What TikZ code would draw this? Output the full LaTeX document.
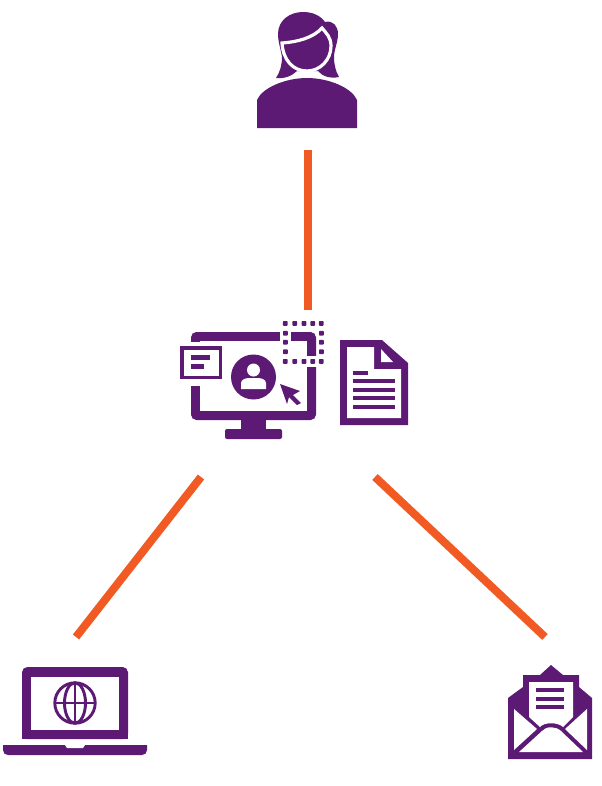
\documentclass[tikz,border=0pt]{standalone}
\definecolor{iconpurple}{HTML}{5C1A74}
\definecolor{linkorange}{HTML}{F15A22}
\tikzset{
  icon/.style={fill=iconpurple,draw=none},
  hole/.style={fill=white,draw=none},
  link/.style={draw=linkorange,line width=6pt},
  dot/.style={fill=iconpurple,draw=none,rounded corners=0.6pt}
}
\begin{document}
\begin{tikzpicture}[x=0.75pt,y=-0.75pt]
    \useasboundingbox (0,0) rectangle (602,786);
    % connector ends
    \coordinate (user end) at (308,150);
    \coordinate (desk top) at (308,310);
    \coordinate (desk left) at (201,477);
    \coordinate (laptop end) at (76,637);
    \coordinate (desk right) at (375,477);
    \coordinate (mail end) at (545,637);
    \draw[link] (user end) -- (desk top);
    \draw[link] (desk left) -- (laptop end);
    \draw[link] (desk right) -- (mail end);
    % user
    \fill[icon] (276,78) .. controls (280,72) and (282,65) .. (282,57)
      .. controls (281,50) and (278,42) .. (278,34)
      .. controls (278,20) and (290,12) .. (303,12)
      .. controls (312,12) and (320,15) .. (325,22)
      .. controls (333,20) and (338,26) .. (338,34)
      .. controls (338,42) and (334,50) .. (334,57)
      .. controls (334,65) and (336,72) .. (339,77)
      .. controls (330,79) and (322,76) .. (318,71)
      -- (297,71) .. controls (292,76) and (284,79) .. (276,78) -- cycle;
    \draw[draw=white,line width=2.4pt,fill=iconpurple] (282,43)
      .. controls (297,42) and (313,38) .. (322,28)
      .. controls (326,33) and (331,37) .. (331,46)
      .. controls (331,60) and (320,71) .. (307,71)
      .. controls (293,71) and (283,60) .. (282,43) -- cycle;
    \fill[icon] (257,128) -- (257,100) .. controls (262,88) and (285,78) .. (307,78)
      .. controls (329,78) and (352,88) .. (357,100) -- (357,128) -- cycle;
    % monitor
    \fill[icon,rounded corners=4pt] (191,420) -- (191,332) -- (316,332) -- (316,420) -- cycle;
    \fill[hole] (200,341) rectangle (307,411);
    \fill[hole] (280,330) rectangle (291,343);
    \fill[hole] (281,343) rectangle (307,370);
    \fill[hole] (307,356) rectangle (318,367);
    \fill[icon] (291,332) rectangle (307,341);
    \fill[icon] (241,420) rectangle (266,430);
    \fill[icon,rounded corners=1.5pt] (225,429) rectangle (282,439);
    % small window on the monitor
    \fill[hole] (176,342) rectangle (226,386);
    \fill[icon] (180,346) rectangle (222,379);
    \fill[hole] (183.5,349.5) rectangle (218.5,375.5);
    \fill[icon] (191,355) rectangle (210,360);
    \fill[icon] (191,364) rectangle (204,369);
    % profile badge
    \fill[icon] (253.5,377) circle (22.5);
    \fill[hole] (253.5,370) circle (6.5);
    \fill[hole] (241,389) -- (241,383) .. controls (241,380) and (245,378) .. (249,378)
      -- (258,378) .. controls (262,378) and (266,380) .. (266,383) -- (266,389) -- cycle;
    % cursor
    \fill[icon] (280,384) -- (300,391) -- (293,395) -- (301,403) -- (297,405)
      -- (289,397) -- (287,404) -- cycle;
    % dotted selection
    \foreach \dotx in {285.3,294.7,304,312.7,321.3} {
      \fill[dot] (\dotx-2.4,321) rectangle (\dotx+2.4,325.8);
      \fill[dot] (\dotx-2.4,359) rectangle (\dotx+2.4,363.8);
    }
    \foreach \doty in {333.3,342.3,351.7} {
      \fill[dot] (283,\doty-2.4) rectangle (287.8,\doty+2.4);
      \fill[dot] (319,\doty-2.4) rectangle (323.8,\doty+2.4);
    }
    % document
    \fill[icon] (340,340) -- (382,340) -- (408,363) -- (408,425) -- (340,425) -- cycle;
    \fill[hole] (347,347) -- (374,347) -- (374,369) -- (401,369) -- (401,418) -- (347,418) -- cycle;
    \fill[hole] (381,349) -- (393,362) -- (381,362) -- cycle;
    \fill[icon] (353,371) rectangle (368,375);
    \foreach \liney in {379,388,396,405} {
      \fill[icon] (353,\liney) rectangle (395,\liney+4);
    }
    % laptop
    \fill[icon,rounded corners=4pt] (22,739) -- (22,667) -- (128,667) -- (128,739) -- cycle;
    \fill[icon] (22,733) rectangle (128,739);
    \fill[hole] (31,677) rectangle (119,730);
    \fill[icon] (3,745) -- (147,745) -- (147,750) .. controls (147,753) and (145,755) .. (142,755)
      -- (8,755) .. controls (5,755) and (3,753) .. (3,750) -- cycle;
    \fill[hole] (65,745) -- (85,745) -- (83,748) -- (67,748) -- cycle;
    \begin{scope}[draw=iconpurple,line width=2.2pt]
      \draw (75,703) circle (20.2);
      \draw (75,703) ellipse (10.5 and 20.2);
      \draw (75,683) -- (75,723);
      \draw (55,703) -- (95,703);
    \end{scope}
    % envelope
    \fill[icon] (508,759) -- (508,698) -- (523,687) -- (523,675) -- (540,675) -- (551,665)
      -- (563,675) -- (579,675) -- (579,687) -- (592,698) -- (592,759) -- cycle;
    \fill[hole] (529,682) -- (573,682) -- (573,717) -- (563,727)
      .. controls (558,722) and (544,722) .. (540,727) -- (529,717) -- cycle;
    \fill[hole] (514,709) -- (537,729) -- (514,750) -- cycle;
    \fill[hole] (587,709) -- (565,729) -- (587,750) -- cycle;
    \fill[hole] (519,752) -- (542,731) .. controls (546,726) and (556,726) .. (561,731)
      -- (583,752) -- cycle;
    \foreach \liney in {688,696.5,705} {
      \fill[icon] (536,\liney) rectangle (564,\liney+4.3);
    }
\end{tikzpicture}
\end{document}
